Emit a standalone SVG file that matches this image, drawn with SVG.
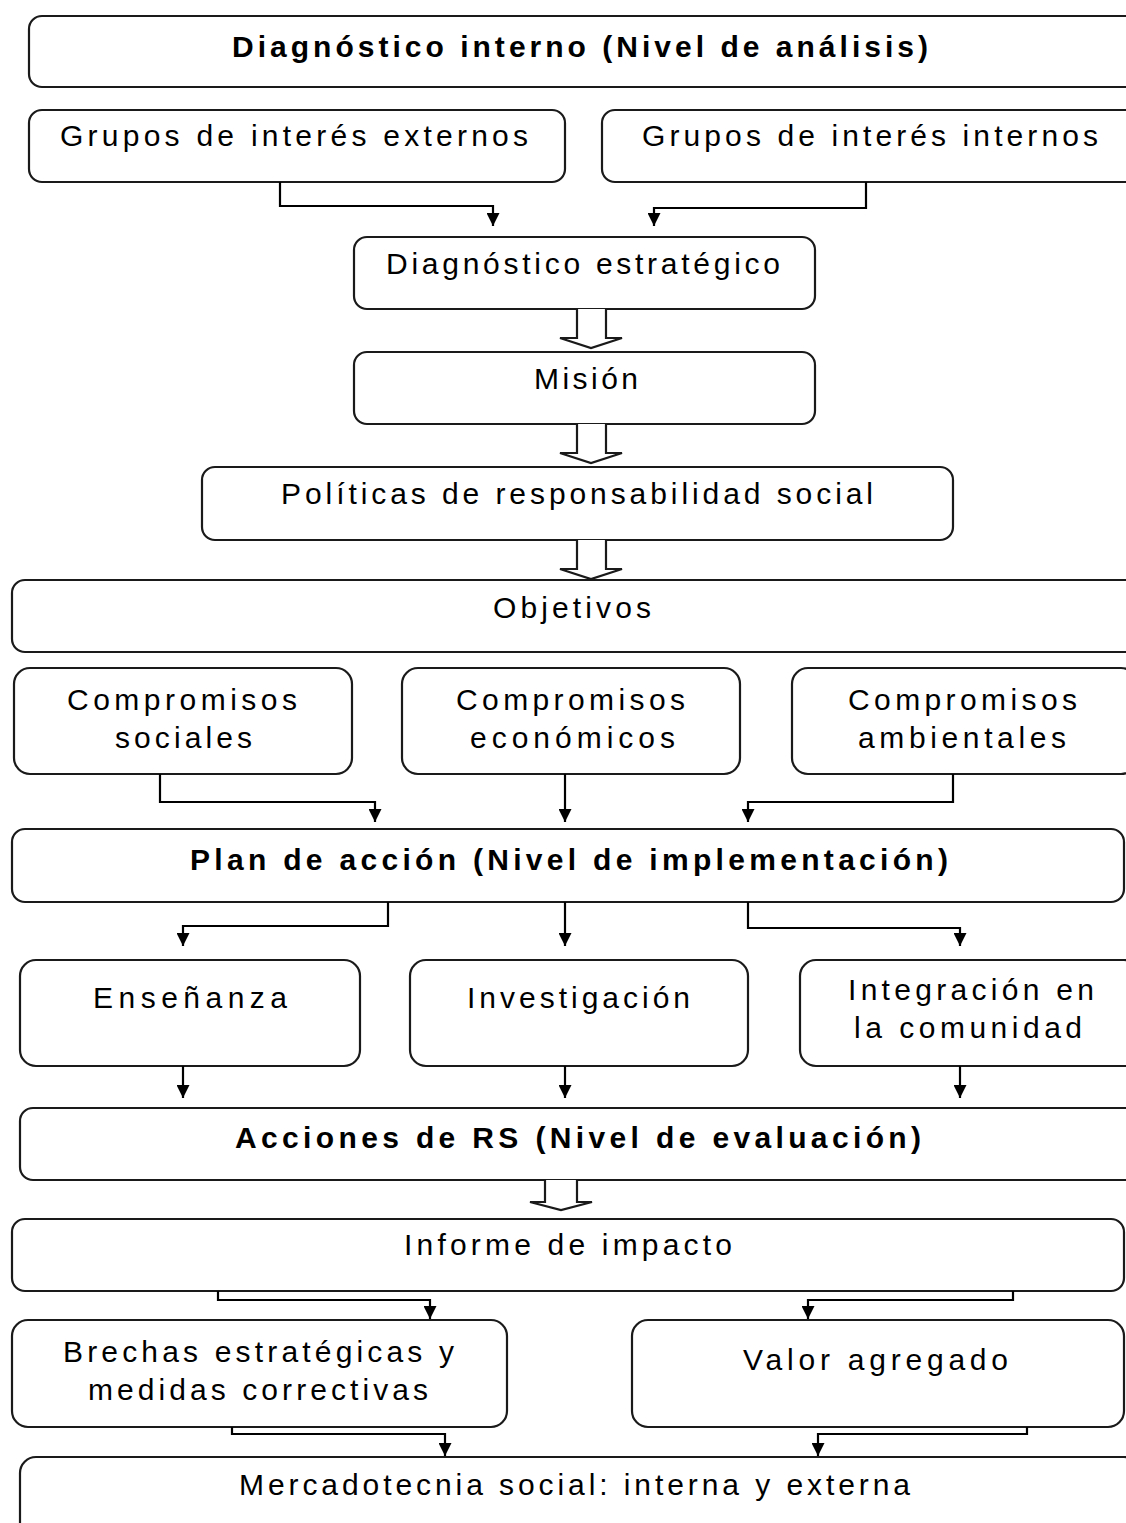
<svg xmlns="http://www.w3.org/2000/svg" width="1126" height="1523" viewBox="0 0 1126 1523">
<defs>
<style>
.box{fill:#fff;stroke:#1a1a1a;stroke-width:2.2}
.t{font-family:"Liberation Sans",Arial,sans-serif;font-size:30px;fill:#000;text-anchor:start}
.b{font-weight:bold}
.c{fill:none;stroke:#000;stroke-width:2.2}
.h{fill:#fff;stroke:#1a1a1a;stroke-width:2.2}
</style>
<marker id="ah" viewBox="0 0 10 10" refX="10" refY="5" markerWidth="13" markerHeight="13" markerUnits="userSpaceOnUse" orient="auto">
<path d="M0,0 L10,5 L0,10 Z" fill="#000"/>
</marker>
</defs>
<rect width="1126" height="1523" fill="#fff"/>

<g id="n1"><rect class="box" x="29" y="16" width="1110" height="71" rx="13"/><text class="t b" x="232" y="57" textLength="696" lengthAdjust="spacing">Diagnóstico interno (Nivel de análisis)</text></g>
<g id="n2"><rect class="box" x="29" y="110" width="536" height="72" rx="13"/><text class="t" x="60" y="146" textLength="468" lengthAdjust="spacing">Grupos de interés externos</text></g>
<g id="n3"><rect class="box" x="602" y="110" width="540" height="72" rx="13"/><text class="t" x="642" y="146" textLength="456" lengthAdjust="spacing">Grupos de interés internos</text></g>
<g id="n4"><rect class="box" x="354" y="237" width="461" height="72" rx="13"/><text class="t" x="386" y="274" textLength="394" lengthAdjust="spacing">Diagnóstico estratégico</text></g>
<g id="n5"><rect class="box" x="354" y="352" width="461" height="72" rx="13"/><text class="t" x="534" y="389" textLength="104" lengthAdjust="spacing">Misión</text></g>
<g id="n6"><rect class="box" x="202" y="467" width="751" height="73" rx="13"/><text class="t" x="281" y="504" textLength="592" lengthAdjust="spacing">Políticas de responsabilidad social</text></g>
<g id="n7"><rect class="box" x="12" y="580" width="1130" height="72" rx="13"/><text class="t" x="493" y="618" textLength="158" lengthAdjust="spacing">Objetivos</text></g>
<g id="n8"><rect class="box" x="14" y="668" width="338" height="106" rx="16"/><text class="t" x="67" y="710" textLength="230" lengthAdjust="spacing">Compromisos</text><text class="t" x="115" y="748" textLength="137" lengthAdjust="spacing">sociales</text></g>
<g id="n9"><rect class="box" x="402" y="668" width="338" height="106" rx="16"/><text class="t" x="456" y="710" textLength="229" lengthAdjust="spacing">Compromisos</text><text class="t" x="470" y="748" textLength="205" lengthAdjust="spacing">económicos</text></g>
<g id="n10"><rect class="box" x="792" y="668" width="345" height="106" rx="16"/><text class="t" x="848" y="710" textLength="229" lengthAdjust="spacing">Compromisos</text><text class="t" x="858" y="748" textLength="208" lengthAdjust="spacing">ambientales</text></g>
<g id="n11"><rect class="box" x="12" y="829" width="1112" height="73" rx="13"/><text class="t b" x="190" y="870" textLength="758" lengthAdjust="spacing">Plan de acción (Nivel de implementación)</text></g>
<g id="n12"><rect class="box" x="20" y="960" width="340" height="106" rx="16"/><text class="t" x="93" y="1008" textLength="194" lengthAdjust="spacing">Enseñanza</text></g>
<g id="n13"><rect class="box" x="410" y="960" width="338" height="106" rx="16"/><text class="t" x="467" y="1008" textLength="223" lengthAdjust="spacing">Investigación</text></g>
<g id="n14"><rect class="box" x="800" y="960" width="340" height="106" rx="16"/><text class="t" x="848" y="1000" textLength="246" lengthAdjust="spacing">Integración en</text><text class="t" x="854" y="1038" textLength="228" lengthAdjust="spacing">la comunidad</text></g>
<g id="n15"><rect class="box" x="20" y="1108" width="1120" height="72" rx="13"/><text class="t b" x="235" y="1148" textLength="686" lengthAdjust="spacing">Acciones de RS (Nivel de evaluación)</text></g>
<g id="n16"><rect class="box" x="12" y="1219" width="1112" height="72" rx="13"/><text class="t" x="404" y="1255" textLength="328" lengthAdjust="spacing">Informe de impacto</text></g>
<g id="n17"><rect class="box" x="12" y="1320" width="495" height="107" rx="16"/><text class="t" x="63" y="1362" textLength="391" lengthAdjust="spacing">Brechas estratégicas y</text><text class="t" x="88" y="1400" textLength="340" lengthAdjust="spacing">medidas correctivas</text></g>
<g id="n18"><rect class="box" x="632" y="1320" width="492" height="107" rx="16"/><text class="t" x="743" y="1370" textLength="265" lengthAdjust="spacing">Valor agregado</text></g>
<g id="n19"><rect class="box" x="20" y="1457" width="1120" height="90" rx="16"/><text class="t" x="239" y="1495" textLength="671" lengthAdjust="spacing">Mercadotecnia social: interna y externa</text></g>

<g id="connectors">
<path class="c" d="M280,182 V206 H493 V226" marker-end="url(#ah)"/>
<path class="c" d="M866,182 V208 H654 V226" marker-end="url(#ah)"/>
<path class="h" d="M577,309 V338 H560 L591,348 L622,338 H606 V309"/>
<path class="h" d="M577,424 V453 H560 L591,463 L622,453 H606 V424"/>
<path class="h" d="M577,540 V569 H560 L591,579 L622,569 H606 V540"/>
<path class="c" d="M160,774 V802 H375 V822" marker-end="url(#ah)"/>
<path class="c" d="M565,774 V822" marker-end="url(#ah)"/>
<path class="c" d="M953,774 V802 H748 V822" marker-end="url(#ah)"/>
<path class="c" d="M388,902 V926 H183 V946" marker-end="url(#ah)"/>
<path class="c" d="M565,902 V946" marker-end="url(#ah)"/>
<path class="c" d="M748,902 V928 H960 V946" marker-end="url(#ah)"/>
<path class="c" d="M183,1066 V1098" marker-end="url(#ah)"/>
<path class="c" d="M565,1066 V1098" marker-end="url(#ah)"/>
<path class="c" d="M960,1066 V1098" marker-end="url(#ah)"/>
<path class="h" d="M545,1180 V1202 H530 L561,1210 L592,1202 H577 V1180"/>
<path class="c" d="M218,1291 V1300 H430 V1319" marker-end="url(#ah)"/>
<path class="c" d="M1013,1291 V1300 H808 V1319" marker-end="url(#ah)"/>
<path class="c" d="M232,1427 V1434 H445 V1456" marker-end="url(#ah)"/>
<path class="c" d="M1027,1427 V1434 H818 V1456" marker-end="url(#ah)"/>
</g>
</svg>
